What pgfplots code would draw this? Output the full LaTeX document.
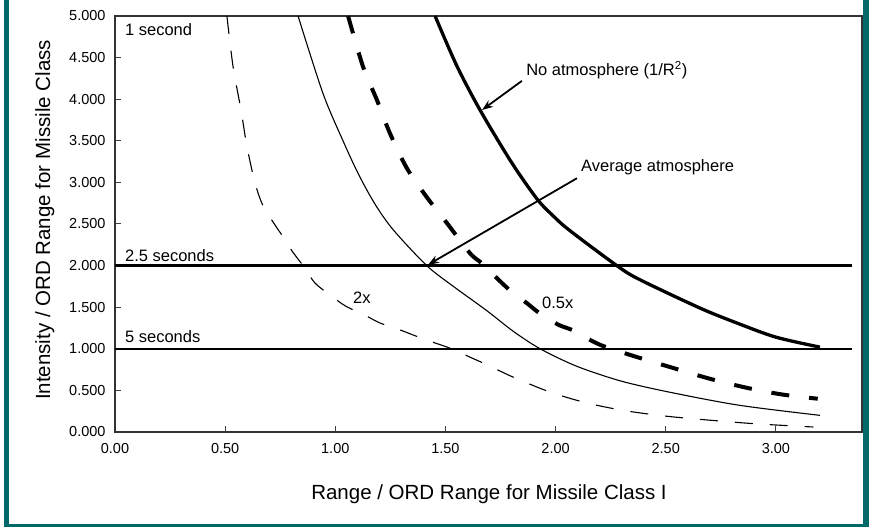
\documentclass[border=0pt]{standalone}
\usepackage{fontspec}
\setmainfont{Liberation Sans}
\usepackage{pgfplots}
\pgfplotsset{compat=1.18}
\usetikzlibrary{arrows.meta}
\definecolor{frameteal}{RGB}{0,104,104}
\newcommand{\annfont}{\fontsize{16.5bp}{19bp}\selectfont}
\newcommand{\labfont}{\fontsize{20.5bp}{24bp}\selectfont}
\newcommand{\tickfont}{\fontsize{14.5bp}{17bp}\selectfont}
\begin{document}
\begin{tikzpicture}[x=1bp,y=1bp]
\useasboundingbox (0,0) rectangle (869,527);
\fill[white] (0,0) rectangle (869,527);
\fill[frameteal] (4,0) rectangle (9,527);
\fill[frameteal] (863,0) rectangle (869,527);
\fill[frameteal] (4,0) rectangle (869,2.5);
\begin{axis}[
  at={(115bp,95bp)}, anchor=south west,
  scale only axis, width=747bp, height=416bp,
  xmin=0, xmax=3.391, ymin=0, ymax=5,
  clip=false,
  axis line style={black!80, line width=1.2bp},
  tick style={black!75, line width=1bp},
  tick align=inside, major tick length=6bp,
  tick pos=left,
  xtick={0,0.5,1,1.5,2,2.5,3},
  ytick={0,0.5,1,1.5,2,2.5,3,3.5,4,4.5,5},
  /pgf/number format/assume math mode=true,
  xticklabel style={font=\tickfont, yshift=-8bp, /pgf/number format/.cd, fixed, fixed zerofill, precision=2},
  yticklabel style={font=\tickfont, xshift=-6bp, /pgf/number format/.cd, fixed, fixed zerofill, precision=3},
]
% horizontal reference lines
\addplot[black, line width=2.3bp] coordinates {(0,2) (3.345,2)};
\addplot[black, line width=2.3bp] coordinates {(0,1) (3.345,1)};
% No atmosphere (thick solid)
\addplot[black, line width=3.3bp, smooth] coordinates {
(1.453,5.00) (1.55,4.41) (1.657,3.87) (1.80,3.24) (1.916,2.80) (1.988,2.60)
(2.065,2.42) (2.283,1.99) (2.383,1.83) (2.655,1.49) (2.823,1.31) (3.00,1.14) (3.20,1.02)};
% Average atmosphere (thin solid)
\addplot[black, line width=1.1bp, smooth] coordinates {
(0.831,5.00) (0.944,4.07) (1.035,3.50) (1.105,3.10) (1.18,2.74) (1.263,2.43) (1.415,2.00)
(1.536,1.75) (1.687,1.46) (1.808,1.21) (1.93,1.00) (2.096,0.79) (2.30,0.61)
(2.533,0.47) (2.837,0.32) (3.20,0.20)};
% 2x (thin dashed)
\addplot[black, line width=1.1bp, dash pattern=on 18bp off 17bp, smooth] coordinates {
(0.508,5.00) (0.536,4.39) (0.572,3.87) (0.599,3.43) (0.636,2.99) (0.670,2.73) (0.711,2.55)
(0.764,2.34) (0.805,2.17) (0.862,1.97) (0.908,1.79) (0.984,1.63) (1.049,1.51)
(1.130,1.41) (1.203,1.31) (1.291,1.23) (1.369,1.15) (1.453,1.07) (1.528,1.00)
(1.611,0.90) (1.687,0.81) (1.807,0.66) (1.975,0.48) (2.14,0.35) (2.306,0.26) (2.47,0.20)
(2.62,0.16) (2.90,0.10) (3.17,0.06)};
% 0.5x (thick dashed)
\addplot[black, line width=4bp, dash pattern=on 18bp off 20bp, smooth] coordinates {
(1.058,5.00) (1.126,4.39) (1.189,3.99) (1.248,3.59) (1.325,3.17) (1.416,2.82)
(1.507,2.51) (1.611,2.15) (1.664,2.03) (1.733,1.85) (1.790,1.71) (1.869,1.55) (1.926,1.43)
(2.012,1.29) (2.080,1.22) (2.20,1.05)
(2.37,0.90) (2.533,0.77) (2.70,0.64) (2.87,0.53) (3.03,0.45) (3.19,0.40)};
% annotations
\node[anchor=base west, inner sep=0, font=\annfont] at (axis cs:0.045,4.77) {1 second};
\node[anchor=base west, inner sep=0, font=\annfont] at (axis cs:0.045,2.055) {2.5 seconds};
\node[anchor=base west, inner sep=0, font=\annfont] at (axis cs:0.045,1.07) {5 seconds};
\node[anchor=base west, inner sep=0, font=\annfont] at (axis cs:1.080,1.54) {2x};
\node[anchor=base west, inner sep=0, font=\annfont] at (axis cs:1.938,1.49) {0.5x};
\node[anchor=base west, inner sep=0, font=\annfont] at (axis cs:1.866,4.28) {No atmosphere (1/R\textsuperscript{2})};
\node[anchor=base west, inner sep=0, font=\annfont] at (axis cs:2.115,3.125) {Average atmosphere};
\draw[-{Stealth[length=11bp,width=8bp]}, line width=1.8bp] (axis cs:1.847,4.22) -- (axis cs:1.666,3.87);
\draw[-{Stealth[length=11bp,width=8bp]}, line width=1.8bp] (axis cs:2.097,3.05) -- (axis cs:1.421,2.01);
\end{axis}
\node[anchor=base, font=\labfont] at (489,27) {Range / ORD Range for Missile Class I};
\node[anchor=base, rotate=90, font=\labfont] at (50,307) {Intensity / ORD Range for Missile Class};
\end{tikzpicture}
\end{document}
